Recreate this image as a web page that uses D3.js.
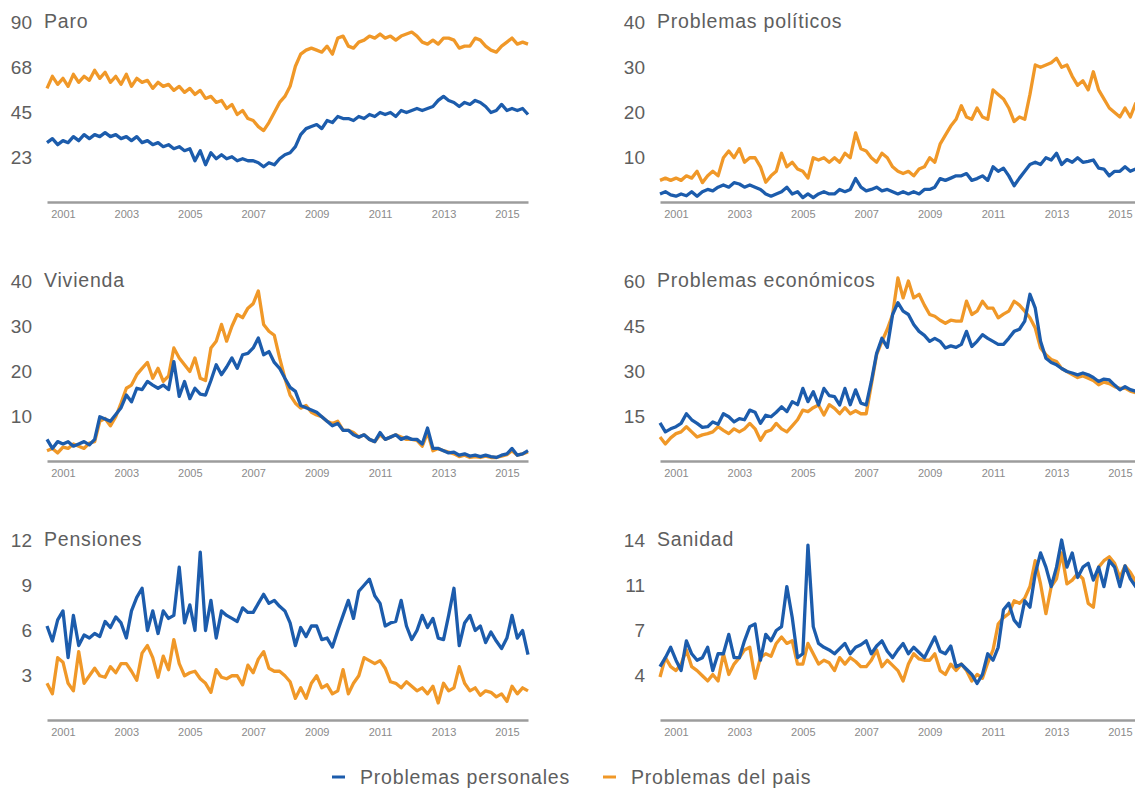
<!DOCTYPE html>
<html>
<head>
<meta charset="utf-8">
<script src="https://cdn.jsdelivr.net/npm/d3@7"></script>
<style>
  body { margin: 0; background: #fff; }
  svg text { font-family: "Liberation Sans", Arial, Helvetica, sans-serif; }
</style>
</head>
<body>
<svg id="chart"></svg>
<script>
// bimonthly readings, Jul 2000 .. Sep 2015 (92 points per series)
const startMonth = new Date(2000, 6, 1);
const endMonth = new Date(2015, 8, 1);

const seriesNames = ["Problemas personales", "Problemas del pais"];
const seriesColors = ["#1c5cac", "#f09828"];
const yearTicks = [2001, 2003, 2005, 2007, 2009, 2011, 2013, 2015];

const paroPersonales = [30, 32, 29,
  31, 30, 33, 31, 34, 32,  34, 33, 35, 33, 34, 32,  33, 31, 33, 30, 31, 29,
  30, 28, 29, 27, 28, 26,  27, 21, 26, 19, 25, 22,  24, 22, 23, 21, 22, 21,
  21, 20, 18, 20, 19, 22,  24, 25, 28, 34, 37, 38,  39, 37, 41, 40, 43, 42,
  42, 41, 43, 42, 44, 43,  45, 44, 45, 43, 46, 45,  46, 47, 46, 47, 48, 51,
  53, 51, 50, 48, 50, 49,  51, 50, 48, 45, 46, 49,
  46, 47, 46, 47, 44];
const paroPais = [57, 63, 59,
  62, 58, 64, 60, 63, 61,  66, 62, 65, 60, 63, 59,  64, 58, 62, 60, 61, 57,
  60, 58, 59, 56, 58, 55,  57, 54, 56, 52, 53, 50,  51, 47, 49, 44, 46, 42,
  41, 38, 36, 40, 45, 50,  53, 58, 68, 74, 76, 77,  76, 75, 78, 74, 82, 83,
  78, 77, 80, 81, 83, 82,  84, 82, 83, 81, 83, 84,  85, 83, 80, 79, 81, 79,
  82, 82, 81, 77, 78, 78,  82, 81, 78, 76, 75, 78,
  80, 82, 79, 80, 79];

const politicosPersonales = [2, 2.5, 1.8,
  1.5, 2, 1.6, 2.5, 1.5, 2.5,  3, 2.7, 3.5, 4, 3.5, 4.5,  4.2, 3.5, 4, 3.5, 3, 2,
  1.5, 2, 2.5, 3.5, 2, 2.5,  1.2, 2, 1.2, 2, 2.5, 2,  2, 3, 2.5, 3, 5.4, 3.5,
  2.7, 3, 3.5, 2.7, 3, 2.5,  2, 2.5, 2, 2.5, 2, 3,  3, 3.5, 5.4, 5, 5.5, 6,
  6, 6.5, 5, 5.4, 6, 5,  8, 7, 7.7, 6, 3.8, 5.5,  7, 8.5, 9, 8.5, 10, 9.5,
  11, 8.5, 9.6, 9, 10, 9,  9.2, 9.5, 7.7, 7.5, 6, 7,
  7, 8, 7, 7.5, 8];
const politicosPais = [5, 5.5, 5,
  5.5, 5, 6, 5.5, 7, 4.5,  6, 7, 6, 10, 11.5, 10,  12, 9, 10, 10, 8, 4.6,
  6, 7, 11, 8, 9, 7.5,  7, 5.5, 10, 9.5, 10, 9,  10, 9, 11, 10, 15.5, 12,
  11.5, 10, 9, 11, 10, 8,  7, 6.5, 7, 6, 7.5, 8,  10, 9, 13, 15, 17, 18.5,
  21.5, 19, 18.5, 21, 19, 18.5,  25, 24, 23, 21, 18, 19,  18.5, 24, 30.5, 30, 30.5, 31,
  32, 30, 30.5, 28, 26, 27,  25, 29, 25, 23, 21, 20,
  19, 21, 19, 22, 22];

const viviendaPersonales = [5, 3, 4.5,
  4, 4.5, 3.5, 4, 4.5, 3.8,  5, 10, 9.5, 9, 10.5, 12,  14.8, 13.3, 16.3, 16, 17.8, 17,
  16.3, 17, 16, 22.2, 14.5, 17.8,  14, 16.3, 15, 14.8, 18, 21.5,  19.3, 21, 23, 20.7, 23.7, 24,
  25.2, 27.4, 23.7, 24.4, 22, 20.7,  18.5, 16.5, 15.6, 12.5, 12, 11.5,  11, 10, 9, 8, 8.5, 7,
  7, 6, 5.5, 6, 5, 4.5,  6.5, 5, 5.5, 6, 5, 5.5,  5, 5, 4, 7.5, 3, 3,
  2.5, 2, 2.2, 1.5, 1.8, 1.3,  1.5, 1.2, 1.5, 1.2, 1, 1.5,
  1.8, 3, 1.5, 1.8, 2.5];
const viviendaPais = [2.5, 3, 2,
  3.3, 3, 4, 3.5, 3, 4.2,  4.5, 9, 9.6, 8, 10, 13,  16.3, 17, 19.3, 20.7, 22, 18.5,
  20.7, 17.8, 19, 25.2, 23, 21.5,  20, 23, 18.5, 18, 25.2, 26.7,  30.4, 26.7, 30, 32.6, 31.9, 34,
  35, 37.8, 30.4, 28.9, 28, 23,  18.5, 14.8, 13, 11.9, 12.5, 11,  10.4, 10, 9, 8.5, 9, 7,
  7, 6.5, 5.5, 6, 5, 4.5,  6, 5, 5.5, 6, 5.5, 5,  5, 4.8, 3.5, 6.5, 2.5, 3,
  2.5, 2.2, 1.8, 1.2, 1.5, 1,  1.2, 1, 1.3, 1, 1, 1.3,
  1.6, 2.5, 1.5, 1.8, 2.2];

const economicosPersonales = [13, 10, 11,
  11.7, 12.8, 16, 14, 12.8, 11.5,  11.7, 13.3, 12.5, 16, 15, 13.3,  14.4, 14, 17.2, 16.5, 12.8, 15.5,
  15, 16.5, 18.3, 16.7, 20, 19,  24.4, 20, 23.3, 18.9, 24.4, 22,  21.7, 18.9, 24.4, 19, 23.9, 19.5,
  18.9, 26.7, 36, 41, 38, 48.9,  52.8, 50, 48.9, 45.6, 43.3, 42,  40, 41, 40, 37.8, 38.5, 38,
  39, 43.3, 38.3, 40, 42.2, 41,  40, 39, 39, 41, 43.3, 44,  46.7, 55.6, 51, 40, 34.4, 33,
  32.2, 31, 30, 29.5, 28.9, 29.5,  28.9, 28, 26.7, 27.5, 27.2, 25.5,
  23.9, 25, 24, 23.5, 23];
const economicosPais = [8.3, 6, 8,
  9.4, 10, 11.7, 10, 8.3, 9,  9.4, 10, 11.7, 10.5, 9.4, 11,  10, 11, 12.8, 11, 7.2, 10,
  10.6, 12.8, 11, 10, 12, 14,  17.2, 16.7, 18, 18.9, 15.6, 19,  17.8, 16, 18, 16, 17, 16,
  16, 25.6, 35.6, 40, 44, 48.9,  61, 54.4, 60, 54.4, 55.6, 52,  48.9, 48.3, 47, 46, 47, 46.7,
  46.7, 53.3, 48.9, 50, 53.3, 51,  51, 47.8, 49, 50, 53.3, 52,  50, 47.8, 44.4, 37.8, 35.6, 34,
  33.3, 31, 30, 29, 28, 28.5,  27.8, 27, 25.6, 26.5, 26, 25,
  24.4, 24.5, 23.5, 23, 22.5];

const pensionesPersonales = [6.3, 5.3, 6.7,
  7.3, 4.2, 7.0, 5.0, 5.7, 5.5,  5.8, 5.6, 6.6, 6.2, 6.9, 6.5,  5.5, 7.3, 8.2, 8.8, 6.0, 7.3,
  5.8, 7.3, 6.8, 7.0, 10.2, 6.5,  7.7, 6.0, 11.2, 6.0, 8.0, 5.5,  7.3, 7.0, 6.8, 6.6, 7.5, 7.2,
  7.2, 7.8, 8.4, 7.8, 8.0, 7.6,  7.3, 6.5, 5.0, 6.2, 5.6, 6.3,  6.3, 5.4, 5.5, 4.9, 6.0, 7.0,
  8.0, 6.8, 8.6, 9.0, 9.4, 8.3,  7.8, 6.3, 6.5, 6.6, 8.0, 6.3,  5.4, 6.0, 7.0, 6.2, 6.8, 5.5,
  5.4, 7.0, 8.8, 5.0, 6.5, 7.0,  6.0, 6.3, 5.2, 5.9, 5.3, 4.8,
  5.5, 7.0, 5.5, 6.0, 4.4];
const pensionesPais = [2.5, 1.8, 4.2,
  3.9, 2.5, 2.0, 4.6, 2.5, 3.0,  3.5, 3.0, 2.9, 3.6, 3.2, 3.8,  3.8, 3.3, 2.7, 4.5, 5.0, 4.2,
  2.9, 4.3, 3.4, 5.4, 3.8, 3.0,  3.2, 3.3, 2.8, 2.5, 1.9, 3.4,  2.9, 2.8, 3.0, 3.0, 2.4, 3.7,
  3.2, 4.1, 4.6, 3.5, 3.3, 3.3,  3.0, 2.6, 1.5, 2.2, 1.5, 2.5,  3.0, 2.2, 2.4, 1.8, 2.0, 3.4,
  1.8, 2.5, 3.0, 4.2, 4.0, 3.8,  4.0, 3.5, 2.6, 2.5, 2.2, 2.6,  2.3, 2.0, 2.2, 1.8, 2.3, 1.2,
  2.5, 2.0, 2.2, 3.6, 2.5, 2.0,  2.2, 1.7, 2.0, 1.9, 1.6, 1.8,
  1.3, 2.3, 1.8, 2.2, 2.0];

const sanidadPersonales = [4.2, 4.9, 5.7,
  4.7, 3.9, 6.2, 5.2, 4.7, 4.9,  5.7, 3.9, 5.2, 5.2, 6.7, 4.9,  4.9, 6.2, 7.3, 7.5, 4.7, 6.7,
  6.2, 7.0, 7.3, 10.4, 8.0, 4.9,  5.2, 13.6, 7.3, 6.0, 5.7, 5.5,  5.2, 5.6, 6.0, 5.2, 5.7, 5.9,
  6.2, 5.2, 5.8, 6.2, 5.4, 4.9,  5.5, 6.0, 5.2, 5.7, 5.3, 4.9,  5.7, 6.5, 5.4, 5.2, 5.8, 4.2,
  4.4, 4.0, 3.6, 2.9, 3.6, 5.2,  4.7, 5.7, 8.6, 9.1, 7.8, 7.3,  9.3, 8.8, 11.4, 13.0, 11.9, 10.4,
  11.9, 14.0, 11.9, 13.0, 11.1, 11.9,  12.2, 10.9, 11.9, 10.4, 12.4, 11.9,
  10.4, 12.0, 11.0, 10.4, 12.3];
const sanidadPais = [3.4, 4.9, 4.2,
  3.9, 4.4, 5.5, 4.2, 3.9, 3.5,  3.1, 3.6, 3.1, 5.2, 3.6, 4.4,  4.9, 5.5, 5.7, 3.3, 4.9, 5.2,
  5.0, 6.0, 6.5, 6.0, 6.2, 4.4,  4.4, 6.0, 5.2, 4.4, 4.7, 4.5,  3.9, 4.9, 4.4, 4.9, 4.6, 4.2,
  4.2, 4.7, 5.5, 4.2, 4.7, 4.3,  3.9, 3.1, 4.4, 5.2, 4.8, 4.7,  4.7, 5.2, 3.9, 3.6, 4.4, 3.9,
  4.4, 3.9, 3.1, 3.6, 3.3, 4.5,  5.5, 7.5, 8.0, 8.3, 9.3, 9.1,  9.5, 10.4, 12.4, 10.6, 8.3, 10.4,
  11.0, 13.0, 10.6, 10.9, 11.4, 11.0,  9.1, 8.8, 11.9, 12.4, 12.7, 12.2,
  11.1, 12.0, 11.5, 10.8, 12.0];

const titles = ["Paro", "Problemas políticos", "Vivienda", "Problemas económicos", "Pensiones", "Sanidad"];
const maxValues = [90, 40, 40, 60, 12, 14];
const personalesData = [paroPersonales, politicosPersonales, viviendaPersonales, economicosPersonales, pensionesPersonales, sanidadPersonales];
const paisData = [paroPais, politicosPais, viviendaPais, economicosPais, pensionesPais, sanidadPais];

const width = 1135, height = 791;
const colX = [47, 660];
const rowTop = [22, 281, 540];
const plotW = 481, plotH = 181;

const svg = d3.select("#chart")
    .attr("width", width)
    .attr("height", height)
    .attr("viewBox", [0, 0, width, height]);

const dates = d3.timeMonth.every(2).range(startMonth, d3.timeMonth.offset(endMonth, 1));

const x = d3.scaleTime().domain([startMonth, endMonth]).range([0, plotW]);

titles.forEach((title, i) => {
    const g = svg.append("g")
        .attr("transform", `translate(${colX[i % 2]}, ${rowTop[Math.floor(i / 2)]})`);

    const y = d3.scaleLinear().domain([0, maxValues[i]]).range([plotH, 0]);
    const yTicks = [1, 2, 3, 4].map(k => maxValues[i] * k / 4);

    // x axis: grey baseline + years
    const gX = g.append("g")
        .attr("transform", `translate(0, ${plotH - 1})`)
        .call(d3.axisBottom(x)
            .tickValues(yearTicks.map(yr => new Date(yr, 0, 1)))
            .tickFormat(d3.timeFormat("%Y"))
            .tickSize(0)
            .tickPadding(8));
    gX.select(".domain").attr("stroke", "#9c9c9c").attr("stroke-width", 2.5);
    gX.selectAll("text").attr("fill", "#8a8a8a").style("font-size", "11px");

    // y axis: numbers only
    const gY = g.append("g")
        .attr("transform", "translate(-15, 0)")
        .call(d3.axisLeft(y).tickValues(yTicks).tickFormat(d => Math.round(d)).tickSize(0).tickPadding(0));
    gY.select(".domain").remove();
    gY.selectAll("text").attr("fill", "#5e5e5e").style("font-size", "19px");

    // title next to the top tick
    g.append("text")
        .attr("x", -3)
        .attr("y", y(maxValues[i]))
        .attr("dy", "0.32em")
        .attr("fill", "#5e5e5e")
        .style("font-size", "19.5px")
        .style("letter-spacing", "0.8px")
        .text(title);

    const line = d3.line()
        .x((d, j) => x(dates[j]))
        .y(d => y(d));

    [paisData[i], personalesData[i]].forEach((vals, k) => {
        g.append("path")
            .datum(vals)
            .attr("fill", "none")
            .attr("stroke", k === 0 ? seriesColors[1] : seriesColors[0])
            .attr("stroke-width", 3.3)
            .attr("stroke-linejoin", "round")
            .attr("d", line);
    });
});

// legend at the bottom
const legendX = [332, 603];
seriesNames.forEach((name, i) => {
    const item = svg.append("g").attr("transform", `translate(${legendX[i]}, 777)`);
    item.append("line")
        .attr("x1", 0).attr("x2", 13)
        .attr("y1", 0).attr("y2", 0)
        .attr("stroke", seriesColors[i])
        .attr("stroke-width", 3);
    item.append("text")
        .attr("x", 28).attr("y", 0)
        .attr("dy", "0.35em")
        .attr("fill", "#5e5e5e")
        .style("font-size", "19.5px")
        .style("letter-spacing", "0.8px")
        .text(name);
});
</script>
</body>
</html>
